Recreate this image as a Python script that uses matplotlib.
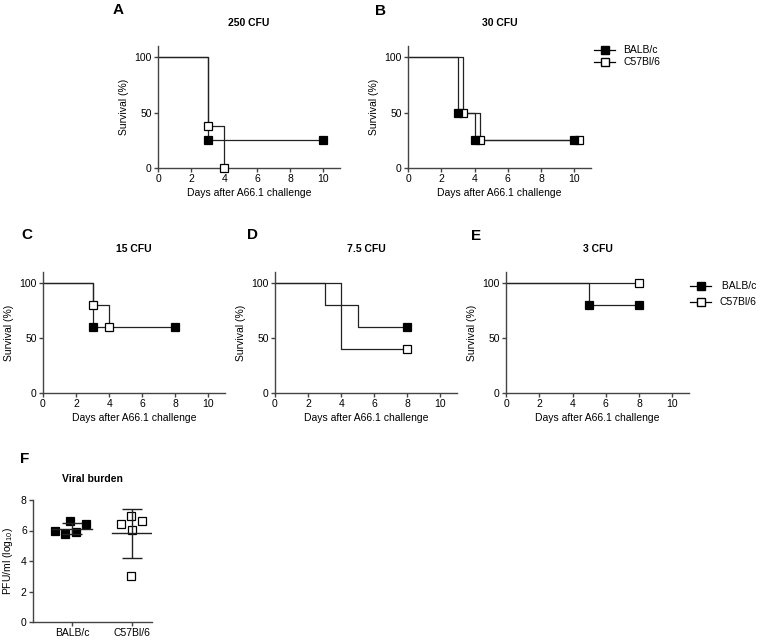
import numpy as np
import matplotlib
matplotlib.use("Agg")
import matplotlib.pyplot as plt
from matplotlib.lines import Line2D

plt.rcParams["font.family"] = ["Liberation Sans", "DejaVu Sans"]
plt.rcParams["mathtext.default"] = "regular"

# Survival data (time in days, survival in %) ──────────────────────────────
strains = ["BALB/c", "C57Bl/6"]

a_balb_t = [0, 3, 10];        a_balb_s = [100, 25, 25];        a_balb_m = [1, 2]
a_c57_t  = [0, 3, 4];         a_c57_s  = [100, 37.5, 0];       a_c57_m  = [1, 2]

b_balb_t = [0, 3, 4, 10];     b_balb_s = [100, 50, 25, 25];    b_balb_m = [1, 2, 3]
b_c57_t  = [0, 3.3, 4.3, 10.3]; b_c57_s = [100, 50, 25, 25];   b_c57_m  = [1, 2, 3]

c_balb_t = [0, 3, 8];         c_balb_s = [100, 60, 60];        c_balb_m = [1, 2]
c_c57_t  = [0, 3, 4];         c_c57_s  = [100, 80, 60];        c_c57_m  = [1, 2]

d_balb_t = [0, 3, 5, 8];      d_balb_s = [100, 80, 60, 60];    d_balb_m = [3]
d_c57_t  = [0, 4, 8];         d_c57_s  = [100, 40, 40];        d_c57_m  = [2]

e_balb_t = [0, 5, 8];         e_balb_s = [100, 80, 80];        e_balb_m = [1, 2]
e_c57_t  = [0, 8];            e_c57_s  = [100, 100];           e_c57_m  = [1]

titles = ["250 CFU", "30 CFU", "15 CFU", "7.5 CFU", "3 CFU"]

# Viral burden (log10 PFU/ml) ──────────────────────────────
f_balb = [5.96, 5.74, 6.62, 5.92, 6.40]
f_c57  = [6.40, 6.97, 6.03, 6.64, 3.00]
f_balb_jit = [-0.28, -0.12, -0.03, 0.07, 0.23]
f_c57_jit  = [-0.18, -0.02, 0.00, 0.17, -0.02]

W, H = 762, 641
fig = plt.figure(figsize=(W / 100, H / 100), dpi=100)

def px_axes(left, right, top, bottom):
    return fig.add_axes([left / W, 1 - bottom / H, (right - left) / W, (bottom - top) / H])

spine_col = "#444444"
ms = 5.5

def style(ax):
    for s in ["top", "right"]:
        ax.spines[s].set_visible(False)
    for s in ["left", "bottom"]:
        ax.spines[s].set_color(spine_col)
        ax.spines[s].set_linewidth(1.0)
    ax.tick_params(direction="out", length=3, width=1, color=spine_col,
                   labelsize=7.5, pad=1.5)

def surv_panel(ax, data, title):
    # C57Bl/6 first so the filled BALB/c squares sit on top
    (bt, bs, bm), (ct, cs, cm) = data
    ax.step(ct, cs, where="post", color="#222222", lw=0.9, clip_on=False)
    ax.step(bt, bs, where="post", color="#222222", lw=0.9, clip_on=False)
    ax.plot([ct[i] for i in cm], [cs[i] for i in cm], ls="none", marker="s",
            ms=ms, mfc="white", mec="black", mew=0.9, clip_on=False, zorder=3)
    ax.plot([bt[i] for i in bm], [bs[i] for i in bm], ls="none", marker="s",
            ms=ms, mfc="black", mec="black", mew=0.9, clip_on=False, zorder=4)
    ax.set_xlim(0, 11)
    ax.set_ylim(0, 110)
    ax.set_xticks([0, 2, 4, 6, 8, 10])
    ax.set_yticks([0, 50, 100])
    ax.set_xlabel("Days after A66.1 challenge", fontsize=7.5, labelpad=3)
    ax.set_ylabel("Survival (%)", fontsize=7.5, labelpad=4)
    ax.text(0.5, 1.19, title, transform=ax.transAxes, ha="center", va="center",
            fontsize=7.5, fontweight="bold")
    style(ax)

axA = px_axes(158, 340, 46, 168)
axB = px_axes(408, 591, 46, 168)
axC = px_axes(43, 225, 272, 393)
axD = px_axes(275, 457, 272, 393)
axE = px_axes(506, 689, 272, 393)
axF = px_axes(33, 152, 500, 622)

surv_panel(axA, [(a_balb_t, a_balb_s, a_balb_m), (a_c57_t, a_c57_s, a_c57_m)], titles[0])
surv_panel(axB, [(b_balb_t, b_balb_s, b_balb_m), (b_c57_t, b_c57_s, b_c57_m)], titles[1])
surv_panel(axC, [(c_balb_t, c_balb_s, c_balb_m), (c_c57_t, c_c57_s, c_c57_m)], titles[2])
surv_panel(axD, [(d_balb_t, d_balb_s, d_balb_m), (d_c57_t, d_c57_s, d_c57_m)], titles[3])
surv_panel(axE, [(e_balb_t, e_balb_s, e_balb_m), (e_c57_t, e_c57_s, e_c57_m)], titles[4])

# Legends
handles = [Line2D([0], [0], color="black", lw=0.9, marker="s", ms=ms, mfc="black", mec="black"),
           Line2D([0], [0], color="black", lw=0.9, marker="s", ms=ms, mfc="white", mec="black")]
fig.legend(handles, strains, loc="upper left", bbox_to_anchor=(590 / W, 1 - 41 / H),
           frameon=False, fontsize=7.5, handlelength=2.0, handletextpad=0.8,
           labelspacing=0.2, borderaxespad=0)
fig.legend(handles, [" BALB/c", "C57Bl/6"], loc="upper left",
           bbox_to_anchor=(686 / W, 1 - 277 / H), frameon=False, fontsize=7.5,
           handlelength=2.0, handletextpad=0.8, labelspacing=0.6, borderaxespad=0)

# Panel F — viral burden
for i, (vals, jit, fc) in enumerate([(f_balb, f_balb_jit, "black"), (f_c57, f_c57_jit, "white")]):
    x = i + np.array(jit)
    axF.plot(x, vals, ls="none", marker="s", ms=ms + 0.5, mfc=fc, mec="black",
             mew=0.9, zorder=2)
    m = np.mean(vals)
    sd = np.std(vals, ddof=1)
    hw = 0.33
    axF.plot([i - hw, i + hw], [m, m], color="#222222", lw=1.0, zorder=3)
    axF.errorbar(i, m, yerr=sd, color="#222222", lw=1.0, capsize=7, capthick=1.0,
                 zorder=3)
axF.set_xlim(-0.65, 1.33)
axF.set_ylim(0, 8)
axF.set_yticks([0, 2, 4, 6, 8])
axF.set_xticks([0, 1])
axF.set_xticklabels(strains)
axF.set_ylabel("PFU/ml (log$_{10}$)", fontsize=7.5, labelpad=4)
axF.text(0.5, 1.17, "Viral burden", transform=axF.transAxes, ha="center",
         va="center", fontsize=7.5, fontweight="bold")
style(axF)

# Panel letters
for lab, x, y in [("A", 118, 10), ("B", 381, 11), ("C", 27, 235), ("D", 253, 235),
                  ("E", 476, 236), ("F", 25, 459)]:
    fig.text(x / W, 1 - y / H, lab, ha="center", va="center", fontsize=11,
             fontweight="bold")

fig.savefig("out.png", dpi=100)
